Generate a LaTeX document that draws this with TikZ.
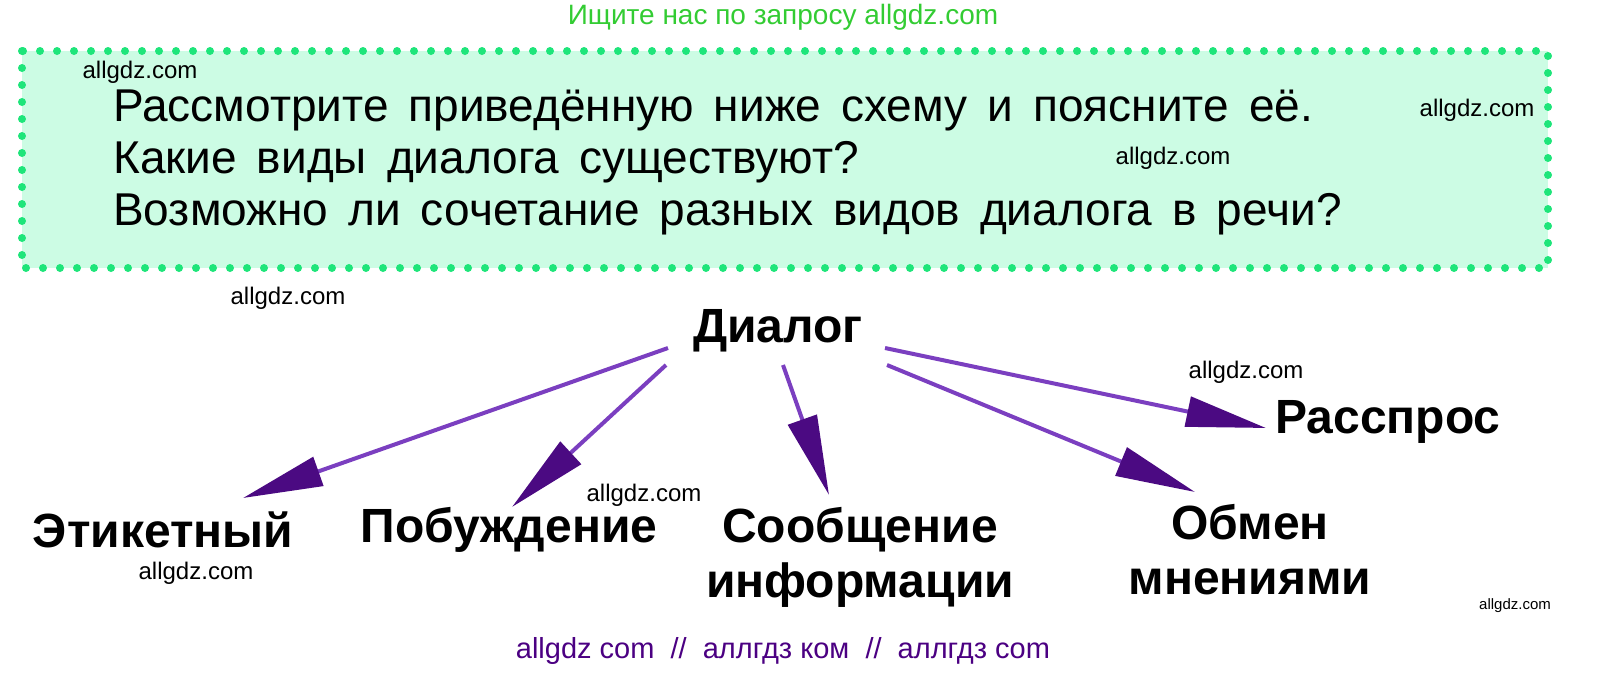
\documentclass[tikz,border=0pt]{standalone}
\usepackage{fontspec}
\setmainfont{Liberation Sans}
\usepackage{tikz}
\usetikzlibrary{arrows.meta}

\definecolor{mint}{RGB}{204,252,228}
\definecolor{dotgreen}{RGB}{30,229,122}
\definecolor{topgreen}{RGB}{51,204,51}
\definecolor{arrline}{RGB}{123,63,192}
\definecolor{arrhead}{RGB}{75,10,130}
\definecolor{sitepurple}{RGB}{75,0,130}

\newcommand{\widewords}{\spaceskip=20pt\relax}

\tikzset{
	kind/.style={font=\fontsize{48}{55}\selectfont\bfseries, align=center, inner sep=0pt},
	wm/.style={font=\fontsize{24}{26}\selectfont, inner sep=0pt},
	qline/.style={font=\fontsize{46}{48}\selectfont, anchor=base west, inner sep=0pt},
	branch/.style={line width=4pt, arrline,
		-{Triangle[length=80pt, width=30pt, color=arrhead]}}
}

\begin{document}
\begin{tikzpicture}[x=1pt, y=-1pt]
	\useasboundingbox (0,0) rectangle (1624,697);
	
	\node[wm, topgreen, font=\fontsize{28}{30}\selectfont] (top) at (783,17) {Ищите нас по запросу allgdz.com};
	
	% task box
	\fill[mint] (22,51) rectangle (1548,268);
	\draw[dotgreen, line width=8pt, line cap=round, dash pattern=on 0pt off 17pt] (22,51) rectangle (1548,268);
	\node[qline] (q1) at (113,121) {\widewords Рассмотрите приведённую ниже схему и поясните её.};
	\node[qline] (q2) at (113,173) {\widewords Какие виды диалога существуют?};
	\node[qline] (q3) at (113,225) {\widewords Возможно ли сочетание разных видов диалога в речи?};
	
	% scheme
	\node[kind] (dlg) at (778,331) {Диалог};
	\node[kind] (rassp) at (1388,422) {Расспрос};
	\node[kind] (etik) at (163,530) {Этикетный};
	\node[kind] (pob) at (509,530) {Побуждение};
	\node[kind] (soob) at (860,557) {Сообщение\\информации};
	\node[kind] (obmen) at (1250,550) {Обмен\\мнениями};
	
	\coordinate (s1) at (668,348);
	\coordinate (s2) at (666,365);
	\coordinate (s3) at (783,365);
	\coordinate (s4) at (885,348);
	\coordinate (s5) at (887,365);
	\coordinate (t1) at (243,498);
	\coordinate (t2) at (512,507);
	\coordinate (t3) at (829,495);
	\coordinate (t4) at (1266,428);
	\coordinate (t5) at (1195,492);
	
	\draw[branch] (s1) -- (t1);
	\draw[branch] (s2) -- (t2);
	\draw[branch] (s3) -- (t3);
	\draw[branch] (s4) -- (t4);
	\draw[branch] (s5) -- (t5);
	
	% watermarks
	\node[wm] (w1) at (140,72) {allgdz.com};
	\node[wm] (w2) at (1477,110) {allgdz.com};
	\node[wm] (w3) at (1173,158) {allgdz.com};
	\node[wm] (w4) at (288,298) {allgdz.com};
	\node[wm] (w5) at (1246,372) {allgdz.com};
	\node[wm] (w6) at (644,495) {allgdz.com};
	\node[wm] (w7) at (196,573) {allgdz.com};
	\node[wm, font=\fontsize{15}{17}\selectfont] (w8) at (1515,606) {allgdz.com};
	\node[wm, sitepurple, font=\fontsize{29}{31}\selectfont] (bot) at (783,651) {allgdz com~~//~~аллгдз ком~~//~~аллгдз com};
\end{tikzpicture}
\end{document}
